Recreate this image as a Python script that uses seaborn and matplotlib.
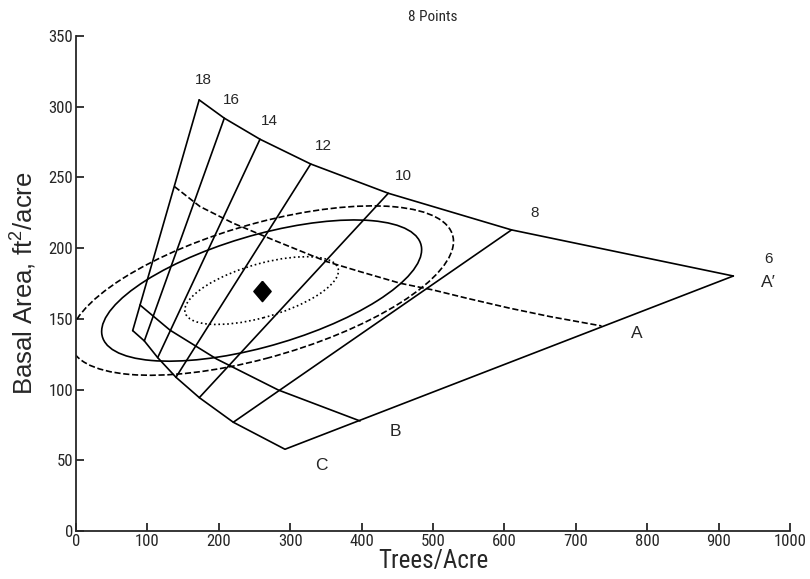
import numpy as np
import pandas as pd
import matplotlib
matplotlib.use("Agg")
import matplotlib.pyplot as plt
from matplotlib import font_manager
from matplotlib.font_manager import FontProperties
from matplotlib.patches import Ellipse
import seaborn as sns

# ---- data ----
# upper boundary (A'-line) at quadratic mean diameters 18..6 in
top_x = [172.5, 207.7, 257.7, 328.7, 437.4, 610.0, 920.6]
top_y = [304.8, 291.9, 277.0, 259.5, 238.8, 212.9, 180.3]
diam_labels = ["18", "16", "14", "12", "10", "8", "6"]
diam_label_x = [179, 218, 271, 346, 458, 643, 970]
diam_label_y = [319, 305, 290, 272, 251, 225, 192]

# lower (C) boundary, ends of diameter lines, then C point and A'
c_x = [79.4, 95.7, 114.4, 140.0, 172.7, 220.3, 292.7, 920.6]
c_y = [141.7, 134.4, 122.6, 108.7, 94.3, 76.9, 57.8, 180.3]

# B-line
b_x = [89.6, 131.7, 197.0, 283.3, 397.8]
b_y = [159.8, 142.0, 121.6, 99.7, 77.8]

# dashed A-line
a_x = [138.0, 173.7, 220.3, 276.3, 351.0, 397.8, 453.8, 500.4, 547.2, 607.8, 663.9, 736.0]
a_y = [243.5, 229.4, 217.6, 205.8, 190.5, 183.4, 175.2, 170.4, 164.6, 157.5, 151.6, 145.0]

# letter labels
letters = ["A", "A\u2032", "B", "C"]
letter_x = [786, 970, 447, 343]
letter_y = [140, 176, 70, 46]

# mean point and confidence ellipses (50 %, 95 %, 99 %)
mean_x = [260.0]
mean_y = [170.0]
ell_width = [217.0, 452.0, 542.0]
ell_height = [38.7, 80.7, 96.8]
ell_angle = 7.6
ell_style = [":", "-", "--"]

# ---- styling ----
sns.set_style("ticks")
plt.rcParams["font.family"] = ["Liberation Sans", "DejaVu Sans"]
plt.rcParams["mathtext.fontset"] = "custom"
plt.rcParams["mathtext.rm"] = "Liberation Sans"
plt.rcParams["mathtext.it"] = "Liberation Sans"

def find_narrow():
    prefs = ["liberationsansnarrow-regular", "robotocondensed-regular",
             "opensans_condensed-regular", "opensanscondensed-regular",
             "dejavusanscondensed.", "notosans-condensed",
             "notosanscondensed-regular"]
    files = [f.fname for f in font_manager.fontManager.ttflist]
    for p in prefs:
        for fn in files:
            if p in fn.lower().replace(" ", ""):
                return FontProperties(fname=fn)
    for fn in files:
        low = fn.lower()
        if ("narrow" in low or "condensed" in low) and "bold" not in low \
                and "italic" not in low and "oblique" not in low:
            return FontProperties(fname=fn)
    return FontProperties(family="Liberation Sans")

narrow = find_narrow()

fig = plt.figure(figsize=(8.10, 5.79), dpi=100)
ax = fig.add_axes([76 / 810, 48 / 579, 714 / 810, 495 / 579])

lw = 1.2
k = "black"

def line(xs, ys, ls="-"):
    sns.lineplot(x=xs, y=ys, sort=False, estimator=None, color=k,
                 linewidth=lw, linestyle=ls, ax=ax)

line(top_x, top_y)
line(c_x, c_y)
line(b_x, b_y)
line(a_x, a_y, "--")
for i in range(len(c_x) - 2):
    line([top_x[i], c_x[i]], [top_y[i], c_y[i]])

for w, h, ls in zip(ell_width, ell_height, ell_style):
    e = Ellipse((mean_x[0], mean_y[0]), w, h, angle=ell_angle, fill=False,
                edgecolor=k, linewidth=lw, linestyle=ls)
    ax.add_patch(e)

diamond = [(0, 1), (0.85, 0), (0, -1), (-0.85, 0), (0, 1)]
sns.scatterplot(x=mean_x, y=mean_y, marker=diamond, s=210, color=k,
                edgecolor=k, ax=ax, zorder=5)

for t, x, y in zip(diam_labels, diam_label_x, diam_label_y):
    ax.text(x, y, t, ha="center", va="center", fontsize=11)
for t, x, y in zip(letters, letter_x, letter_y):
    ax.text(x, y, t, ha="center", va="center", fontsize=12.5)

ax.set_xlim(0, 1000)
ax.set_ylim(0, 350)
ax.set_xticks(range(0, 1001, 100))
ax.set_yticks(range(0, 351, 50))
sns.despine(ax=ax)
for s in ["left", "bottom"]:
    ax.spines[s].set_linewidth(1.3)
ax.tick_params(direction="in", length=6, width=1.3, pad=2)
tick_fp = narrow.copy()
tick_fp.set_size(12)
for lab in ax.get_xticklabels() + ax.get_yticklabels():
    lab.set_fontproperties(tick_fp)

xl_fp = narrow.copy()
xl_fp.set_size(18)
ax.set_xlabel("Trees/Acre", fontproperties=xl_fp, labelpad=0)
ax.set_ylabel(r"Basal Area, ft$^2$/acre", fontsize=18.5)
ax.yaxis.set_label_coords(-0.052, 0.5)
t_fp = narrow.copy()
t_fp.set_size(11)
fig.text(433 / 810, 1 - 17 / 579, "8 Points", ha="center", va="center",
         fontproperties=t_fp)

fig.savefig("out.png", dpi=100)
